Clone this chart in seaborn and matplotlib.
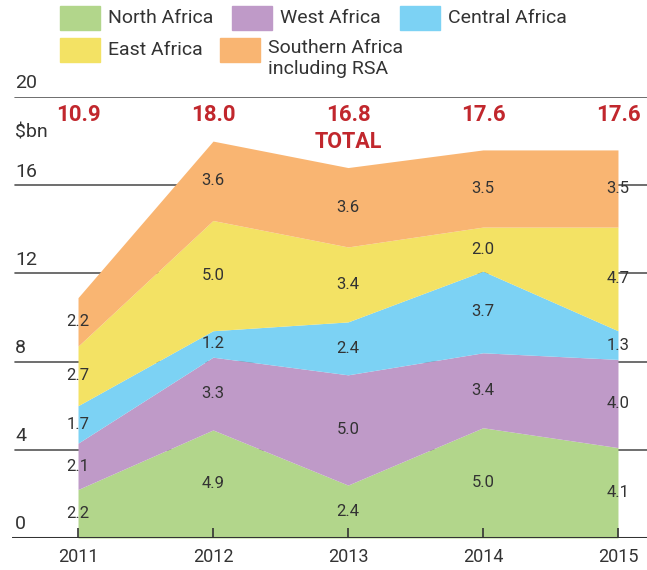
import numpy as np
import pandas as pd
import matplotlib.pyplot as plt
import seaborn as sns
from matplotlib.patches import Rectangle

# Data ($bn)
years = [2011, 2012, 2013, 2014, 2015]
regions = ["North Africa", "West Africa", "Central Africa",
           "East Africa", "Southern Africa\nincluding RSA"]
north = [2.2, 4.9, 2.4, 5.0, 4.1]
west = [2.1, 3.3, 5.0, 3.4, 4.0]
central = [1.7, 1.2, 2.4, 3.7, 1.3]
east = [2.7, 5.0, 3.4, 2.0, 4.7]
southern = [2.2, 3.6, 3.6, 3.5, 3.5]
totals = [10.9, 18.0, 16.8, 17.6, 17.6]
y_ticks = [0, 4, 8, 12, 16, 20]

colors = ["#B2D68B", "#BF9AC8", "#7CD2F4", "#F3E264", "#F9B572"]
red = "#C1272D"
txt = "#333333"

sns.set_theme(style="white")
plt.rcParams['font.family'] = ['Roboto', 'DejaVu Sans']

df = pd.DataFrame(
    {regions[0]: north, regions[1]: west, regions[2]: central,
     regions[3]: east, regions[4]: southern},
    index=years,
)

W, H = 647, 570
fig = plt.figure(figsize=(W / 100, H / 100), dpi=100)
ax = fig.add_axes([12 / W, (H - 538) / H, 1 - 12 / W, (538 - 97) / H])

# stacked areas
ax.stackplot(df.index, df.T.values, colors=colors, linewidth=0, zorder=2)

ax.set_xlim(2010.511, 2015.215)
ax.set_ylim(0, 20)
sns.despine(ax=ax, left=True, bottom=True)

# gridlines behind areas
for v in y_ticks[1:]:
    ax.axhline(v, color="#555555", lw=1.2, zorder=1, xmin=0.004)
ax.axhline(0, color="#333333", lw=2.2, zorder=4)

# y tick labels above the gridlines
ax.set_yticks([])
for v in y_ticks:
    ax.text(0.005, v + 0.62, str(v), transform=ax.get_yaxis_transform(),
            ha="left", va="center", fontsize=14, color=txt)
ax.text(0.005, 18.37, "$bn", transform=ax.get_yaxis_transform(),
        ha="left", va="center", fontsize=14, color=txt)

# x axis
ax.set_xticks(years)
ax.set_xticklabels([str(y) for y in years], fontsize=13, color=txt)
ax.tick_params(axis="x", direction="in", length=7, width=1.2,
               color="#333333", pad=7, bottom=True)
for t in ax.xaxis.get_major_ticks():
    t.tick1line.set_zorder(5)
ax.set_axisbelow(False)

# band labels in the middle of each layer
cum = df.cumsum(axis=1)
mid = cum - df / 2
for y in years:
    for r in regions:
        ax.text(y, mid.loc[y, r], f"{df.loc[y, r]:.1f}", ha="center",
                va="center", fontsize=12, color=txt, zorder=6)

# totals
for y, t in zip(years, totals):
    ax.text(y, 19.18, f"{t:.1f}", ha="center", va="center", fontsize=16,
            fontweight="bold", color=red)
ax.text(2013, 17.96, "TOTAL", ha="center", va="center", fontsize=15.5,
        fontweight="bold", color=red)

# legend drawn by hand
legend_pos = [(60, 18), (232, 18), (400, 18), (60, 50), (220, 50)]
for (px, py), name, c in zip(legend_pos, regions, colors):
    fig.patches.append(Rectangle((px / W, 1 - (py + 12) / H), 40 / W, 24 / H,
                                 transform=fig.transFigure, color=c))
    if "\n" in name:
        fig.text((px + 48) / W, 1 - (py - 11) / H, name, ha="left", va="top",
                 fontsize=14, color=txt, linespacing=1.2)
    else:
        fig.text((px + 48) / W, 1 - py / H, name, ha="left", va="center",
                 fontsize=14, color=txt)

fig.savefig("out.png", dpi=100)
